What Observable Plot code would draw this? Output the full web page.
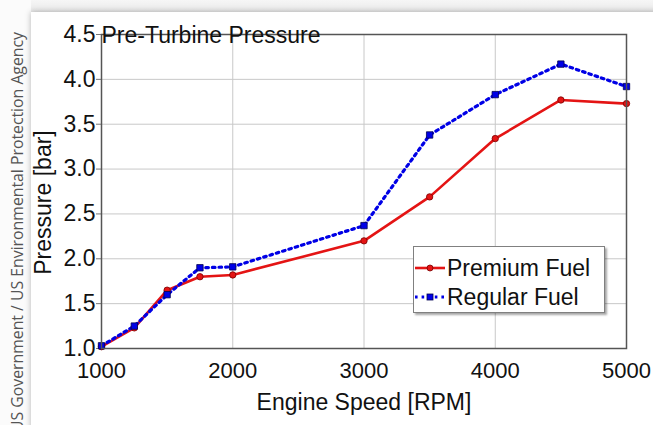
<!DOCTYPE html>
<html>
<head>
<meta charset="utf-8">
<script src="https://cdn.jsdelivr.net/npm/d3@7"></script>
<script src="https://cdn.jsdelivr.net/npm/@observablehq/plot@0.6"></script>
<style>
  html, body { margin: 0; padding: 0; background: #ffffff; }
  #page { position: relative; width: 653px; height: 425px; overflow: hidden; font-family: "Liberation Sans", Arial, sans-serif; }
  #strip { position: absolute; left: 0; top: 0; width: 31px; height: 425px; background: #fbfbfb; }
  #topband { position: absolute; left: 31px; top: 0; width: 622px; height: 12px; background: linear-gradient(#f6f6f6, #e9e9e9); }
  #card { position: absolute; left: 31px; top: 12px; width: 640px; height: 430px; background: #fff; box-shadow: 0 0 6px rgba(0,0,0,0.28); }
  #chart { position: absolute; left: 0; top: 0; }
  #legend { position: absolute; left: 413px; top: 246px; width: 190px; height: 65px; background: #fff; border: 1px solid #808080; box-shadow: 2px 2px 2px rgba(0,0,0,0.35); }
  .row { position: absolute; left: 0; height: 26px; display: flex; align-items: center; font-size: 23px; color: #111; white-space: nowrap; }
  .row svg { margin-right: 1px; }
</style>
</head>
<body>
<div id="page">
  <div id="strip">
    <svg width="31" height="425">
      <text transform="translate(23,432) rotate(-90)" font-family="'Open Sans', 'Noto Sans', sans-serif" font-size="15.8" fill="#555">US Government / US Environmental Protection Agency</text>
    </svg>
  </div>
  <div id="topband"></div>
  <div id="card"></div>
  <div id="chart"></div>
  <div id="legend"></div>
</div>
<script>
// Engine speed sweep and measured pre-turbine pressure for the two fuels
const speeds = [1000, 1250, 1500, 1750, 2000, 3000, 3500, 4000, 4500, 5000];
const premium = [1.02, 1.23, 1.65, 1.80, 1.82, 2.20, 2.69, 3.34, 3.77, 3.73];
const regular = [1.03, 1.25, 1.60, 1.90, 1.91, 2.37, 3.38, 3.83, 4.17, 3.92];
const xTicks = [1000, 2000, 3000, 4000, 5000];
const yTicks = [1.0, 1.5, 2.0, 2.5, 3.0, 3.5, 4.0, 4.5];
const seriesNames = ["Premium Fuel", "Regular Fuel"];

const RED = "#e41414";
const BLUE = "#0000e6";

const premRows = speeds.map((s, i) => ({speed: s, p: premium[i]}));
const regRows = speeds.map((s, i) => ({speed: s, p: regular[i]}));

const chart = Plot.plot({
  width: 653,
  height: 425,
  marginLeft: 101,
  marginRight: 27,
  marginTop: 34,
  marginBottom: 77,
  style: {background: "transparent", fontFamily: "'Liberation Sans', Arial, sans-serif", color: "#111"},
  x: {domain: [1000, 5000]},
  y: {domain: [1.0, 4.5]},
  marks: [
    Plot.gridX(xTicks, {stroke: "#c8c8c8", strokeOpacity: 1, strokeWidth: 1}),
    Plot.gridY(yTicks, {stroke: "#c8c8c8", strokeOpacity: 1, strokeWidth: 1}),
    Plot.axisX({ticks: xTicks, tickSize: 0, tickPadding: 14, tickFormat: d3.format("d"), fontSize: 22, label: null}),
    Plot.axisY({ticks: yTicks, tickSize: 5, tickPadding: 1, tickFormat: d3.format(".1f"), fontSize: 23, label: null, stroke: "#777"}),
    Plot.line(premRows, {x: "speed", y: "p", stroke: RED, strokeWidth: 2.6}),
    Plot.line(regRows, {x: "speed", y: "p", stroke: BLUE, strokeWidth: 3.2, strokeDasharray: "2.6,4"}),
    Plot.dot(premRows, {x: "speed", y: "p", r: 3.2, fill: RED, stroke: "#7a0000", strokeWidth: 0.8}),
    Plot.dot(regRows, {x: "speed", y: "p", symbol: "square", r: 3.6, fill: BLUE, stroke: "#000050", strokeWidth: 0.8}),
    Plot.frame({stroke: "#555", strokeWidth: 1.5}),
    Plot.text(["Pre-Turbine Pressure"], {frameAnchor: "top-left", textAnchor: "start", dy: -8, dx: 0, fontSize: 23, fill: "#111"}),
    Plot.text(["Engine Speed [RPM]"], {frameAnchor: "bottom", textAnchor: "middle", dy: 61, fontSize: 23, fill: "#111"}),
    Plot.text(["Pressure [bar]"], {frameAnchor: "left", textAnchor: "middle", dx: -58, dy: 11, rotate: -90, fontSize: 23, fill: "#111"})
  ]
});
chart.style.background = "transparent";
document.getElementById("chart").appendChild(chart);

// Legend entries drawn with the same stroke and symbol styles as the series
const legend = document.getElementById("legend");
const swatches = [
  `<svg width="32" height="10"><line x1="1" y1="5" x2="31" y2="5" stroke="${RED}" stroke-width="2.6"/><circle cx="16" cy="5" r="3" fill="${RED}" stroke="#7a0000" stroke-width="0.8"/></svg>`,
  `<svg width="32" height="10"><line x1="1" y1="5" x2="31" y2="5" stroke="${BLUE}" stroke-width="3.2" stroke-dasharray="2.6,4"/><rect x="13" y="2" width="6" height="6" fill="${BLUE}" stroke="#000050" stroke-width="0.8"/></svg>`
];
seriesNames.forEach((name, i) => {
  const row = document.createElement("div");
  row.className = "row";
  row.style.top = (8 + i * 29) + "px";
  row.innerHTML = swatches[i] + `<span>${name}</span>`;
  legend.appendChild(row);
});
</script>
</body>
</html>
